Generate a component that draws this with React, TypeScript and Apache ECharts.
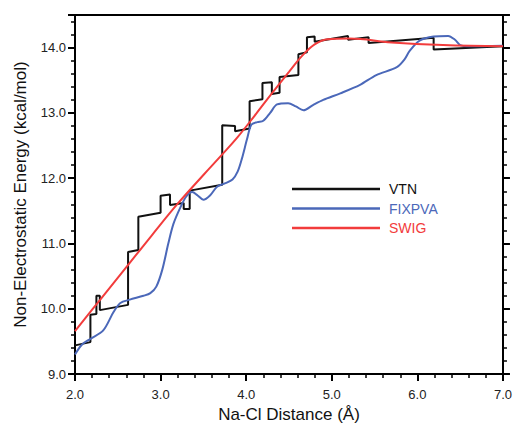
import React, { useEffect, useRef } from "react";
import * as echarts from "echarts";

const xTicks = [2, 3, 4, 5, 6, 7];
const yRange = [9.0, 14.5];

const vtn: [number, number][] = [
  [2.0, 9.44], [2.18, 9.49], [2.18, 9.91], [2.25, 9.92], [2.25, 10.2], [2.29, 10.2],
  [2.29, 9.98], [2.62, 10.06], [2.62, 10.87], [2.74, 10.9], [2.74, 11.41], [3.0, 11.47],
  [3.0, 11.73], [3.11, 11.75], [3.11, 11.59], [3.27, 11.62], [3.27, 11.53], [3.34, 11.53],
  [3.34, 11.81], [3.72, 11.9], [3.72, 12.81], [3.87, 12.8], [3.87, 12.72], [4.04, 12.76],
  [4.04, 13.18], [4.19, 13.21], [4.19, 13.46], [4.3, 13.47], [4.3, 13.29], [4.39, 13.31],
  [4.39, 13.55], [4.61, 13.58], [4.61, 13.9], [4.71, 13.93], [4.71, 14.16], [4.8, 14.17],
  [4.8, 14.09], [5.19, 14.18], [5.19, 14.12], [5.43, 14.16], [5.43, 14.07], [6.19, 14.15],
  [6.19, 13.97], [7.0, 14.02],
];

const fixpva: [number, number][] = [
  [2.0, 9.3], [2.08, 9.45], [2.18, 9.54], [2.33, 9.67], [2.45, 9.95], [2.53, 10.09],
  [2.64, 10.14], [2.8, 10.2], [2.88, 10.24], [2.95, 10.34], [3.02, 10.6], [3.09, 11.0],
  [3.15, 11.3], [3.23, 11.55], [3.3, 11.72], [3.37, 11.79], [3.43, 11.74], [3.5, 11.67],
  [3.58, 11.74], [3.66, 11.87], [3.75, 11.92], [3.84, 11.98], [3.9, 12.1], [3.95, 12.3],
  [4.01, 12.6], [4.06, 12.82], [4.13, 12.86], [4.2, 12.88], [4.28, 13.0], [4.36, 13.13],
  [4.49, 13.15], [4.58, 13.1], [4.67, 13.04], [4.78, 13.12], [4.9, 13.2], [5.1, 13.3],
  [5.33, 13.43], [5.52, 13.58], [5.76, 13.7], [5.85, 13.82], [5.91, 13.95], [6.03, 14.11],
  [6.19, 14.17], [6.36, 14.18], [6.44, 14.12], [6.5, 14.04], [6.6, 14.02], [7.0, 14.03],
];

const swig: [number, number][] = [
  [2.0, 9.66], [2.3, 10.15], [2.6, 10.64], [2.9, 11.13], [3.2, 11.61], [3.5, 12.05],
  [3.71, 12.35], [3.9, 12.63], [4.1, 12.96], [4.3, 13.3], [4.5, 13.63], [4.65, 13.87],
  [4.8, 14.05], [4.95, 14.13], [5.2, 14.14], [5.7, 14.08], [6.3, 14.04], [7.0, 14.02],
];

const FONT = "'Liberation Sans', Arial, sans-serif";
const BLACK = "#111111";
const BLUE = "#4b68b9";
const RED = "#f23c3c";

export default function App() {
  const ref = useRef<HTMLDivElement>(null);
  useEffect(() => {
    if (!ref.current) return;
    const chart = echarts.init(ref.current, undefined, { renderer: "svg" });
    const axisLine = { show: true, lineStyle: { color: "#000", width: 2 } };
    chart.setOption({
      animation: false,
      backgroundColor: "#fff",
      textStyle: { fontFamily: FONT },
      grid: { left: 75, right: 12, top: 15, bottom: 49, containLabel: false },
      legend: {
        orient: "vertical",
        left: 292,
        top: 182,
        padding: 0,
        icon: "rect",
        itemWidth: 88,
        itemHeight: 2.5,
        itemGap: 5.5,
        textStyle: { fontFamily: FONT, fontSize: 14, padding: [0, 0, 0, 4] },
        data: [
          { name: "VTN", textStyle: { color: BLACK } },
          { name: "FIXPVA", textStyle: { color: BLUE } },
          { name: "SWIG", textStyle: { color: RED } },
        ],
      },
      xAxis: [
        {
          type: "value",
          min: xTicks[0],
          max: xTicks[xTicks.length - 1],
          interval: 1,
          name: "Na-Cl Distance (Å)",
          nameLocation: "middle",
          nameGap: 29,
          nameTextStyle: { fontFamily: FONT, fontSize: 17, color: "#111" },
          axisLine,
          axisTick: { show: true, length: 7, lineStyle: { color: "#000", width: 2 } },
          minorTick: { show: true, splitNumber: 5, length: 4, lineStyle: { color: "#000", width: 1.5 } },
          axisLabel: { fontFamily: FONT, fontSize: 13, color: "#222", margin: 14, formatter: (v: number) => v.toFixed(1) },
          splitLine: { show: false },
        },
        {
          type: "value",
          position: "top",
          min: xTicks[0],
          max: xTicks[xTicks.length - 1],
          axisLine,
          axisTick: { show: false },
          axisLabel: { show: false },
          splitLine: { show: false },
        },
      ],
      yAxis: [
        {
          type: "value",
          min: yRange[0],
          max: yRange[1],
          interval: 1,
          name: "Non-Electrostatic Energy (kcal/mol)",
          nameLocation: "middle",
          nameGap: 46,
          nameTextStyle: { fontFamily: FONT, fontSize: 17, color: "#111" },
          axisLine,
          axisTick: { show: true, length: 7, lineStyle: { color: "#000", width: 2 } },
          minorTick: { show: true, splitNumber: 5, length: 4, lineStyle: { color: "#000", width: 1.5 } },
          axisLabel: { fontFamily: FONT, fontSize: 13, color: "#222", margin: 9, showMaxLabel: false, formatter: (v: number) => v.toFixed(1) },
          splitLine: { show: false },
        },
        {
          type: "value",
          position: "right",
          min: yRange[0],
          max: yRange[1],
          interval: 1,
          axisLine,
          axisTick: { show: true, length: 7, lineStyle: { color: "#000", width: 2 } },
          minorTick: { show: true, splitNumber: 5, length: 4, lineStyle: { color: "#000", width: 1.5 } },
          axisLabel: { show: false },
          splitLine: { show: false },
        },
      ],
      series: [
        {
          name: "VTN",
          type: "line",
          data: vtn,
          symbol: "none",
          lineStyle: { color: BLACK, width: 2 },
          itemStyle: { color: BLACK },
        },
        {
          name: "FIXPVA",
          type: "line",
          data: fixpva,
          symbol: "none",
          smooth: 0.3,
          lineStyle: { color: BLUE, width: 2 },
          itemStyle: { color: BLUE },
        },
        {
          name: "SWIG",
          type: "line",
          data: swig,
          symbol: "none",
          smooth: 0.4,
          lineStyle: { color: RED, width: 2 },
          itemStyle: { color: RED },
        },
      ],
    });
    return () => chart.dispose();
  }, []);
  return <div ref={ref} style={{ position: "fixed", left: 0, top: 0, width: 515, height: 428 }} />;
}
